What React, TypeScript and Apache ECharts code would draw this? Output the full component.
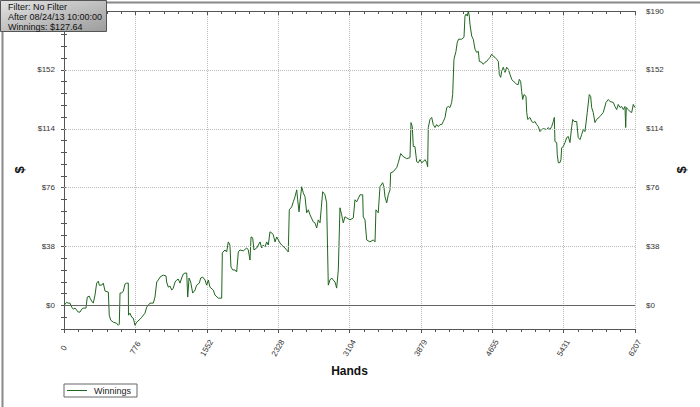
import React, { useEffect, useRef } from "react";
import * as echarts from "echarts";

// Hands played (x) and cumulative winnings in dollars (y)
const hands = [
  0, 29, 43, 65, 84, 101, 120, 138, 155, 174, 192, 210, 239, 253, 275, 283, 301, 318, 337, 355,
  373, 384, 410, 427, 446, 482, 492, 508, 536, 573, 590, 601, 609, 627, 645, 663, 682, 699, 701, 717,
  736, 753, 772, 790, 826, 845, 880, 899, 935, 971, 989, 1008, 1025, 1044, 1079, 1109, 1116, 1134, 1152, 1171,
  1188, 1207, 1225, 1242, 1261, 1279, 1297, 1315, 1334, 1345, 1359, 1377, 1399, 1424, 1442, 1471, 1486, 1508, 1533, 1551,
  1569, 1587, 1623, 1641, 1677, 1714, 1721, 1750, 1768, 1786, 1804, 1815, 1834, 1859, 1877, 1895, 1913, 1949, 1986, 2003,
  2022, 2033, 2051, 2065, 2095, 2112, 2131, 2149, 2166, 2185, 2203, 2221, 2239, 2258, 2275, 2294, 2312, 2330, 2348, 2366,
  2402, 2438, 2449, 2475, 2493, 2511, 2530, 2540, 2555, 2565, 2584, 2601, 2620, 2638, 2656, 2674, 2710, 2728, 2747, 2764,
  2783, 2812, 2837, 2855, 2866, 2873, 2891, 2910, 2927, 2946, 2964, 2982, 3000, 3018, 3036, 3054, 3073, 3109, 3145, 3163,
  3182, 3218, 3247, 3253, 3272, 3290, 3326, 3362, 3381, 3391, 3416, 3435, 3464, 3478, 3489, 3508, 3525, 3544, 3551, 3579,
  3616, 3634, 3660, 3688, 3707, 3725, 3761, 3772, 3786, 3797, 3815, 3834, 3851, 3870, 3888, 3906, 3924, 3943, 3953, 3960,
  3978, 3997, 4014, 4033, 4051, 4069, 4087, 4106, 4123, 4142, 4160, 4177, 4196, 4214, 4225, 4239, 4261, 4275, 4290, 4323,
  4348, 4359, 4370, 4384, 4395, 4406, 4413, 4432, 4449, 4468, 4486, 4504, 4515, 4541, 4558, 4576, 4595, 4612, 4631, 4649,
  4667, 4685, 4704, 4721, 4732, 4747, 4758, 4775, 4794, 4812, 4830, 4848, 4867, 4884, 4902, 4921, 4938, 4949, 4964, 4975,
  4986, 5000, 5022, 5030, 5041, 5065, 5084, 5101, 5120, 5138, 5156, 5174, 5193, 5210, 5247, 5264, 5283, 5301, 5319, 5330,
  5337, 5356, 5362, 5373, 5391, 5402, 5410, 5427, 5446, 5464, 5482, 5500, 5519, 5530, 5544, 5573, 5590, 5609, 5627, 5645,
  5663, 5688, 5710, 5725, 5736, 5753, 5772, 5790, 5826, 5862, 5892, 5917, 5935, 5971, 5989, 6008, 6025, 6044, 6062, 6080,
  6098, 6106, 6112, 6134, 6152, 6171, 6188, 6207,
];

const winnings = [
  0, 2.1, 1.5, 1.5, -1.1, -2.4, -1.7, -3.0, -4.3, -4.3, -2.4, -1.7, -1.7, 5.4, 6.0, 4.7, 2.8, 1.5, 6.7, 14.4,
  15.7, 13.1, 13.1, 14.4, 9.3, 8.6, -6.3, -9.5, -10.8, -11.5, -12.8, -12.1, 8.0, 8.0, 9.3, 13.8, 14.4, 14.4, -6.3, -5.0,
  -7.6, -8.2, -12.8, -10.8, -8.9, -7.6, -5.0, -1.1, 1.5, 1.5, 5.4, 15.1, 16.4, 18.3, 19.6, 19.0, 15.1, 11.8, 12.5, 9.9,
  11.2, 15.1, 16.4, 17.0, 14.4, 17.7, 20.3, 20.9, 20.9, 5.4, 17.7, 15.1, 8.0, 9.9, 13.1, 14.4, 17.7, 18.3, 16.4, 13.1,
  16.4, 11.8, 9.9, 6.7, 4.7, 4.7, 33.9, 35.8, 34.5, 41.0, 39.0, 24.8, 22.9, 22.9, 21.6, 34.5, 35.8, 35.2, 37.1, 35.8,
  29.3, 44.2, 43.6, 35.8, 37.1, 39.0, 41.0, 37.1, 39.0, 37.7, 41.0, 39.0, 47.5, 46.8, 45.5, 41.0, 44.2, 42.3, 40.3, 39.0,
  37.1, 34.5, 61.7, 63.6, 66.9, 70.1, 74.6, 68.2, 60.4, 66.9, 76.6, 72.7, 70.1, 59.8, 61.7, 58.5, 53.9, 53.3, 50.0, 55.2,
  53.3, 73.4, 71.4, 66.2, 33.9, 13.1, 16.4, 17.7, 16.4, 15.1, 11.2, 22.9, 63.0, 58.5, 53.3, 57.2, 56.5, 55.2, 56.5, 68.2,
  66.9, 71.4, 71.4, 57.2, 55.2, 42.3, 41.0, 42.3, 41.0, 61.7, 59.8, 76.6, 79.2, 76.6, 70.1, 66.2, 71.4, 74.6, 85.6, 86.3,
  88.9, 92.1, 98.0, 96.0, 95.4, 94.7, 95.4, 118.0, 115.4, 102.5, 102.5, 92.8, 92.1, 94.1, 92.1, 92.8, 94.1, 92.1, 89.5, 114.8,
  120.0, 121.3, 116.7, 114.8, 116.7, 115.4, 116.7, 116.7, 118.7, 121.3, 127.7, 128.4, 127.7, 131.0, 136.1, 158.8, 164.0, 169.8, 171.8, 171.8,
  173.1, 186.7, 188.0, 186.7, 189.9, 186.7, 181.5, 173.8, 171.8, 165.3, 163.3, 164.0, 157.5, 156.9, 155.6, 156.9, 157.5, 158.8, 160.1, 162.1,
  160.8, 160.1, 158.8, 157.5, 149.1, 147.2, 151.1, 153.7, 150.4, 153.7, 152.4, 149.1, 145.9, 144.6, 143.9, 142.6, 142.6, 145.9, 144.6, 138.1,
  132.9, 136.1, 134.9, 124.5, 120.0, 121.3, 118.7, 118.0, 118.7, 116.7, 115.4, 112.2, 113.5, 114.1, 113.5, 114.8, 113.5, 115.4, 118.7, 121.3,
  105.7, 105.1, 97.3, 92.1, 92.1, 94.1, 101.8, 102.5, 105.1, 108.3, 109.0, 105.1, 115.4, 120.0, 118.7, 118.7, 108.3, 107.0, 110.2, 113.5,
  112.2, 124.5, 136.1, 134.9, 127.7, 124.5, 118.0, 120.0, 121.9, 124.5, 131.0, 132.9, 131.6, 131.0, 128.4, 126.4, 129.7, 127.7, 128.4, 126.4,
  128.4, 114.8, 127.7, 126.4, 125.1, 124.5, 129.7, 127.64,
];

// Left axis top label is hidden under the info box in the original
const yLabelValuesLeft = [0, 38, 76, 114, 152];
const yLabelValuesRight = [0, 38, 76, 114, 152, 190];
const yGridValues = [38, 76, 114, 152];
const infoLines = ["Filter: No Filter", "After 08/24/13 10:00:00", "Winnings: $127.64"];

const X_MAX = 6207;
const X_STEP = X_MAX / 8;
const Y_MIN = -15.2;
const Y_MAX = 190;
const Y_STEP = 7.6;

const AXIS_COLOR = "#555";
const LABEL_COLOR = "#333";
const LINE_COLOR = "#1f661f";
const FONT = "'Liberation Sans', Arial, sans-serif";

export default function App() {
  const ref = useRef<HTMLDivElement>(null);

  useEffect(() => {
    if (!ref.current) return;
    const chart = echarts.init(ref.current, undefined, { renderer: "svg" });

    const makeFormatter = (vals: number[]) => (v: number) => {
      const hit = vals.find((t) => Math.abs(t - v) < 0.01);
      return hit === undefined ? "" : "$" + hit;
    };

    const yAxisBase = {
      type: "value",
      min: Y_MIN,
      max: Y_MAX,
      interval: Y_STEP,
      axisLine: { show: true, lineStyle: { color: AXIS_COLOR, width: 1 } },
      axisTick: { show: true, length: 3, lineStyle: { color: AXIS_COLOR } },
      splitLine: { show: false },
      nameLocation: "middle",
      nameTextStyle: { fontFamily: FONT, fontWeight: "bold", fontSize: 13, color: "#111" },
    };

    const data = hands.map((h, i) => [h, winnings[i]]);

    chart.setOption({
      animation: false,
      backgroundColor: "#fff",
      textStyle: { fontFamily: FONT },
      grid: { left: 64, right: 65, top: 11, bottom: 78, containLabel: false },
      legend: {
        data: [{ name: "Winnings", icon: "rect" }],
        left: 64,
        top: 384,
        orient: "horizontal",
        backgroundColor: "#fff",
        borderColor: "#666",
        borderWidth: 1,
        borderRadius: 0,
        padding: [2, 6, 2, 3],
        itemWidth: 20,
        itemHeight: 1,
        itemGap: 6,
        textStyle: { fontSize: 9, color: "#222", fontFamily: FONT, padding: [0, 0, 0, 2] },
      },
      xAxis: [
        {
          type: "value",
          position: "bottom",
          min: 0,
          max: X_MAX,
          interval: X_STEP,
          name: "Hands",
          nameLocation: "middle",
          nameGap: 34,
          nameTextStyle: { fontFamily: FONT, fontWeight: "bold", fontSize: 12, color: "#111" },
          axisLine: { show: true, onZero: false, lineStyle: { color: AXIS_COLOR } },
          axisTick: { show: true, length: 4, lineStyle: { color: AXIS_COLOR } },
          minorTick: { show: true, splitNumber: 5, length: 3, lineStyle: { color: AXIS_COLOR } },
          axisLabel: {
            rotate: 60,
            align: "center",
            verticalAlign: "middle",
            margin: 19,
            fontSize: 8,
            color: LABEL_COLOR,
            fontFamily: FONT,
            formatter: (v: number) => String(Math.round(v)),
          },
          splitLine: { show: true, lineStyle: { type: "dotted", color: "#bbb", width: 1 } },
        },
        {
          type: "value",
          position: "top",
          min: 0,
          max: X_MAX,
          interval: X_STEP,
          axisLine: { show: true, onZero: false, lineStyle: { color: AXIS_COLOR } },
          axisTick: { show: true, inside: true, length: 4, lineStyle: { color: AXIS_COLOR } },
          minorTick: { show: true, splitNumber: 5, length: 3, lineStyle: { color: AXIS_COLOR } },
          axisLabel: { show: false },
          splitLine: { show: false },
        },
      ],
      yAxis: [
        {
          ...yAxisBase,
          position: "left",
          name: "$",
          nameGap: 37,
          axisLabel: {
            margin: 9,
            fontSize: 8,
            color: LABEL_COLOR,
            fontFamily: FONT,
            formatter: makeFormatter(yLabelValuesLeft),
          },
        },
        {
          ...yAxisBase,
          position: "right",
          name: "$",
          nameGap: 36,
          axisLabel: {
            margin: 11,
            fontSize: 8,
            color: LABEL_COLOR,
            fontFamily: FONT,
            formatter: makeFormatter(yLabelValuesRight),
          },
        },
      ],
      series: [
        {
          name: "grid",
          type: "line",
          data: [[0, 0]],
          symbol: "none",
          lineStyle: { opacity: 0 },
          silent: true,
          z: 1,
          markLine: {
            silent: true,
            symbol: ["none", "none"],
            label: { show: false },
            data: [
              ...yGridValues.map((v) => ({ yAxis: v, lineStyle: { type: "dotted", color: "#bbb", width: 1 } })),
              { yAxis: 0, lineStyle: { type: "solid", color: "#666", width: 1 } },
            ],
          },
        },
        {
          name: "Winnings",
          type: "line",
          data,
          symbol: "none",
          showSymbol: false,
          z: 3,
          lineStyle: { color: LINE_COLOR, width: 1 },
          itemStyle: { color: LINE_COLOR },
        },
      ],
      graphic: [
        {
          type: "rect",
          left: 0,
          top: 0,
          z: 100,
          shape: { x: 0, y: 0, width: 699, height: 406 },
          style: { fill: "none", stroke: "#888", lineWidth: 2 },
          silent: true,
        },
        {
          type: "rect",
          z: 101,
          x: 0,
          y: 0,
          shape: { x: 0.5, y: 0.5, width: 106, height: 31 },
          style: {
            fill: new echarts.graphic.LinearGradient(0, 0, 1, 1, [
              { offset: 0, color: "#e4e4e4" },
              { offset: 1, color: "#9c9c9c" },
            ]),
            stroke: "#555",
            lineWidth: 1,
          },
        },
        ...infoLines.map((t, i) => ({
          type: "text",
          z: 102,
          x: 8,
          y: 2.5 + i * 10,
          style: {
            text: t,
            fill: "#111",
            fontSize: 9,
            fontFamily: FONT,
            verticalAlign: "top",
            align: "left",
          },
        })),
      ],
    });

    return () => chart.dispose();
  }, []);

  return (
    <div
      ref={ref}
      style={{ position: "fixed", left: 0, top: 0, width: 700, height: 407 }}
    />
  );
}
